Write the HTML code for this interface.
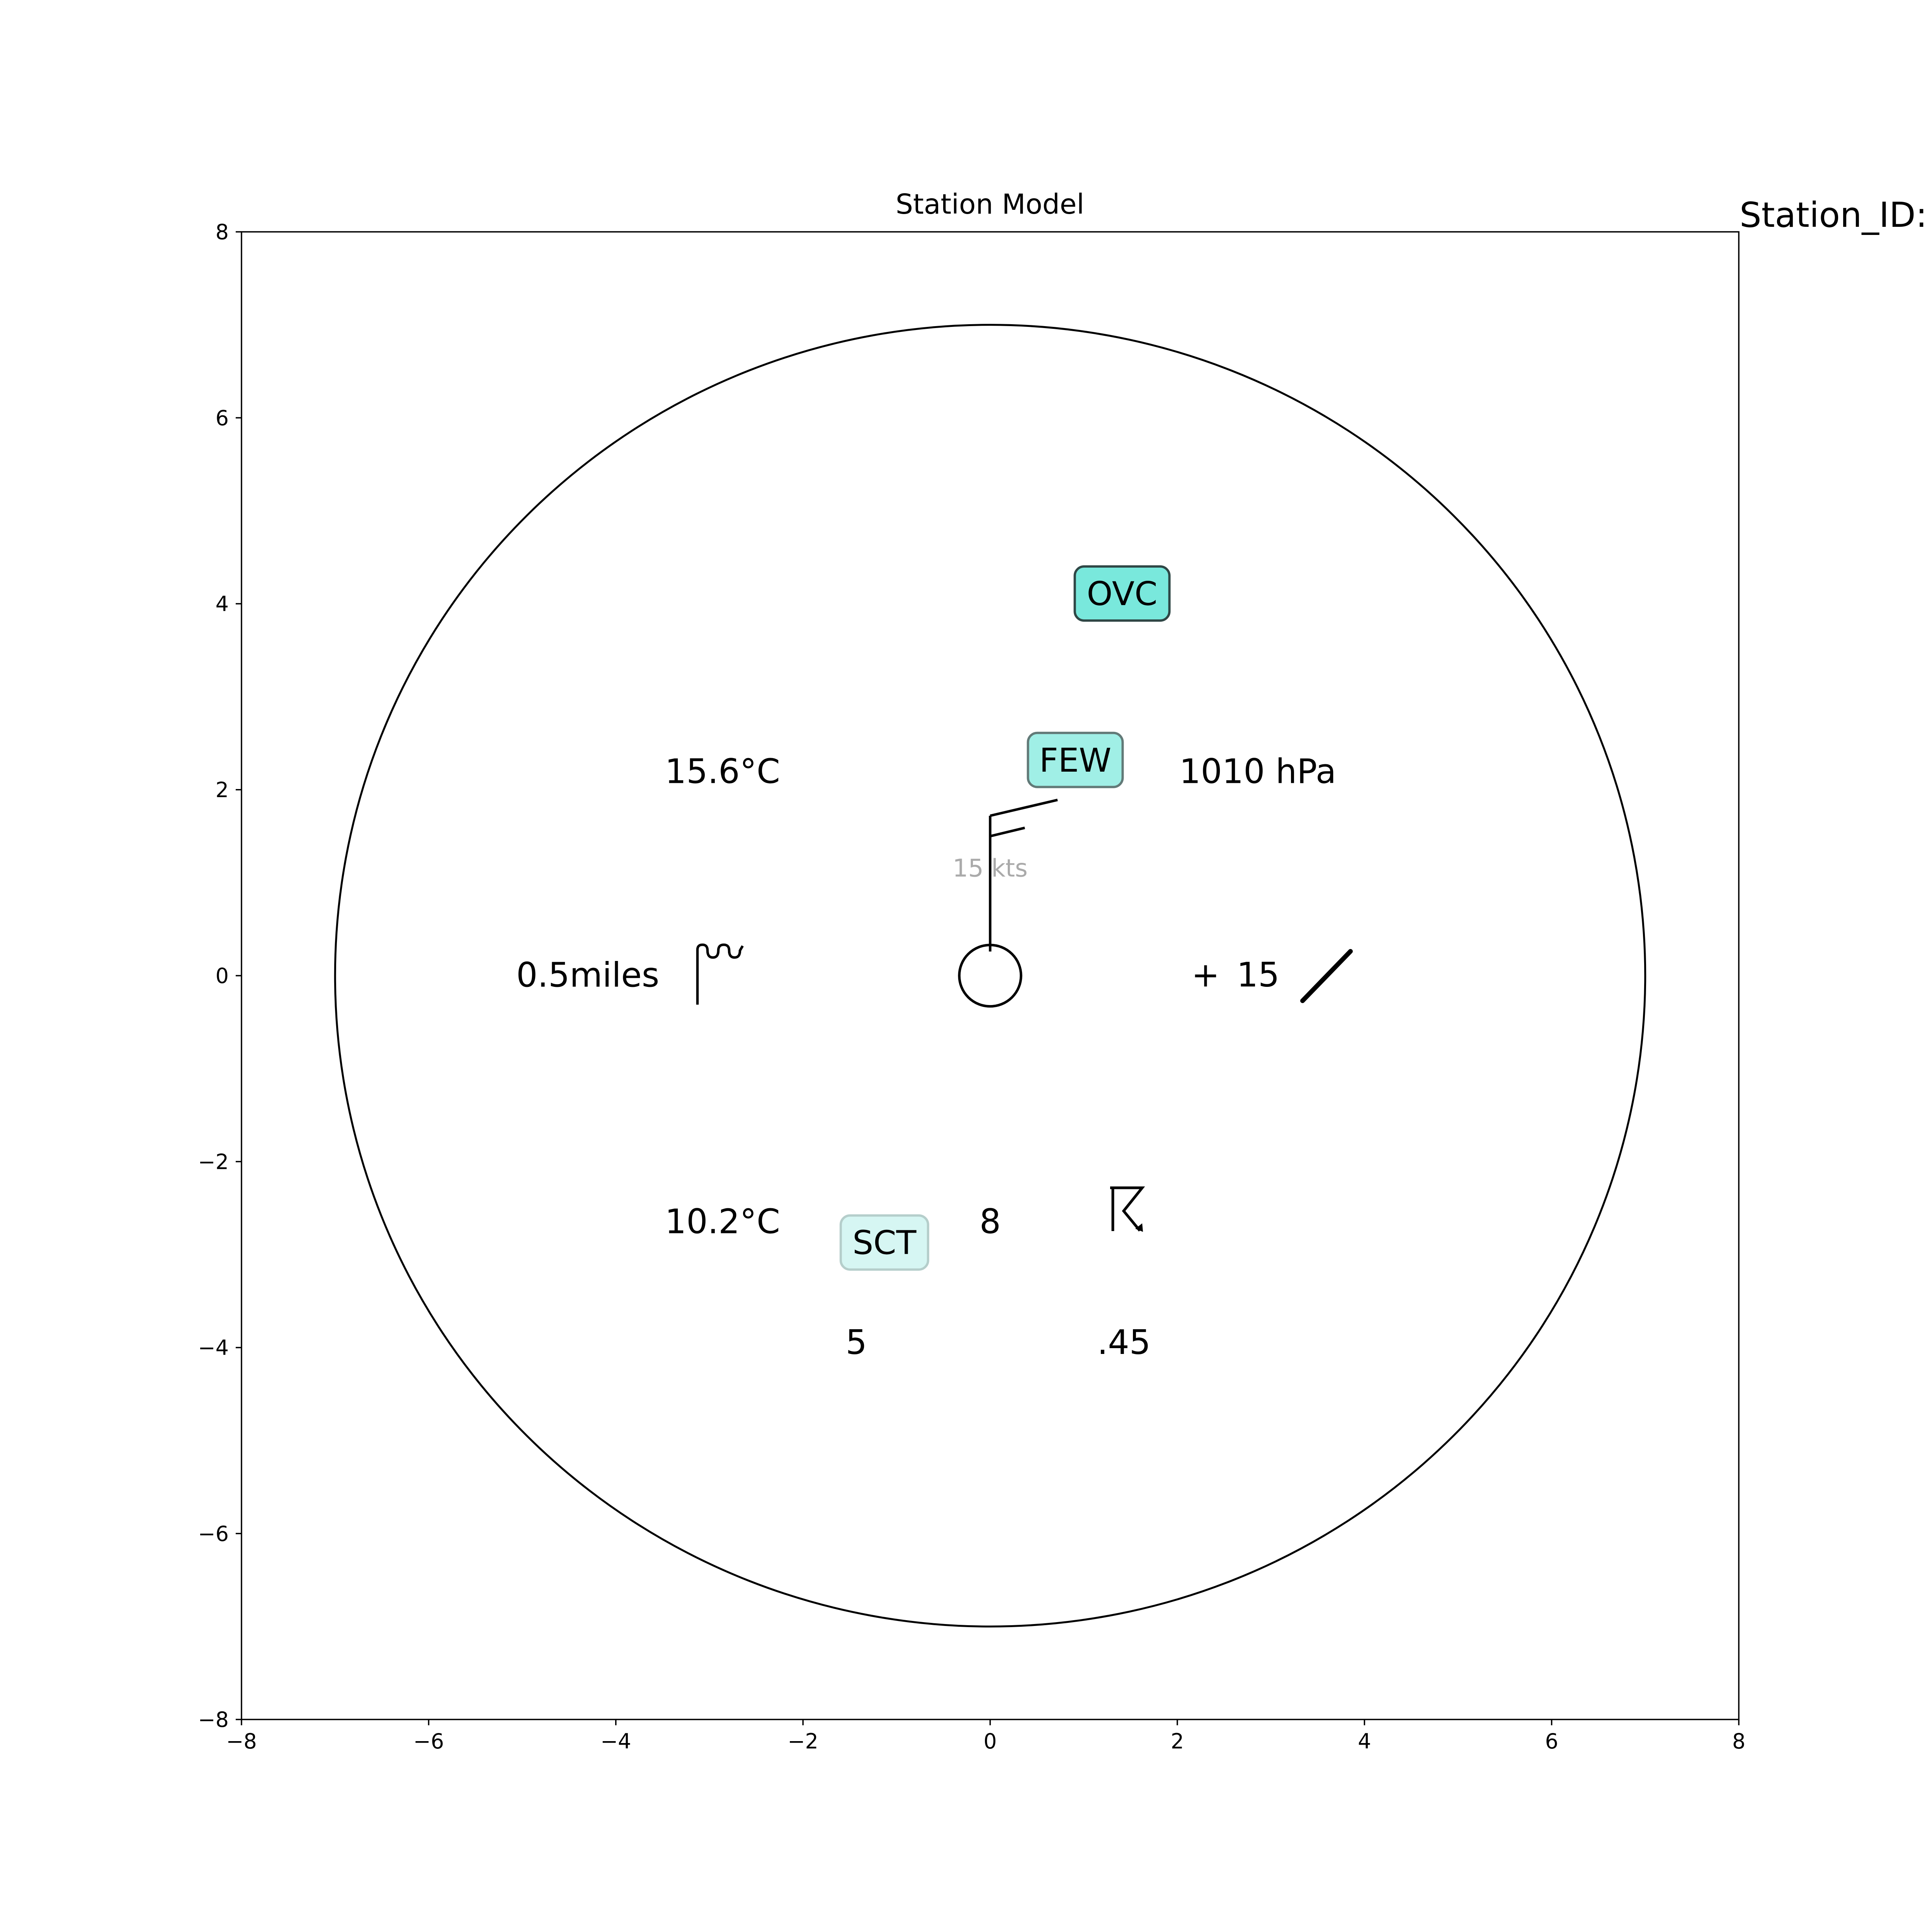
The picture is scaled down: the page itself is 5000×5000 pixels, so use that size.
<!DOCTYPE html>
<html><head><meta charset="utf-8"><style>
html,body{margin:0;padding:0;background:#fff}
svg{display:block;font-family:"DejaVu Sans","Liberation Sans",sans-serif}
</style></head><body>
<svg id="chart" width="5000" height="5000" viewBox="0 0 5000 5000" xmlns="http://www.w3.org/2000/svg">
<rect width="5000" height="5000" fill="#fff"/>
<text x="2562" y="553" font-size="71" text-anchor="middle">Station Model</text>
<text x="4502" y="587" font-size="89">Station_ID:</text>
<g id="plot"></g>
<rect x="625" y="600" width="3875" height="3850" fill="none" stroke="#000" stroke-width="3.5"/>
<g id="ticks"></g>
</svg>
<script>
const xTicks=[-8,-6,-4,-2,0,2,4,6,8];
const yTicks=[-8,-6,-4,-2,0,2,4,6,8];
const ringRadius=[7];
const stationRadius=[0.33];
const windStaff=[0,0.26,0,1.72];
const windBarbFull=[0,1.72,0.72,1.89];
const windBarbHalf=[0,1.5,0.37,1.59];
const textLabels=["15.6°C","1010 hPa","0.5miles","10.2°C","8","5",".45"];
const textX=[-2.86,2.86,-4.3,-2.86,0,-1.43,1.43];
const textY=[2.2,2.2,0.01,-2.64,-2.64,-3.94,-3.94];
const cloudLabels=["OVC","FEW","SCT"];
const cloudX=[1.41,0.91,-1.13];
const cloudY=[4.11,2.32,-2.87];
const cloudFill=["#79e8dc","#a0efe6","#d6f6f3"];
const cloudEdge=["#2f4746","#627a78","#b5cecb"];

const X=v=>2562.5+242.1875*v;
const Y=v=>2525-240.625*v;
const NS="http://www.w3.org/2000/svg";
const plot=document.getElementById('plot');
const tg=document.getElementById('ticks');
function mk(tag,attrs,parent){const e=document.createElementNS(NS,tag);for(const k in attrs)e.setAttribute(k,attrs[k]);parent.appendChild(e);return e;}
const fmt=v=>v<0?"\u2212"+Math.abs(v):String(v);

xTicks.forEach(v=>{
  const l=mk('line',{x1:X(v),x2:X(v),y1:4450,y2:4465,stroke:'#000','stroke-width':3.5},tg);
  
  
  const t=mk('text',{x:X(v),y:4525,'font-size':54,'text-anchor':'middle'},tg);
  t.textContent=fmt(v);
  
  
});
yTicks.forEach(v=>{
  const l=mk('line',{x1:610,x2:625,y1:Y(v),y2:Y(v),stroke:'#000','stroke-width':3.5},tg);
  
  
  const t=mk('text',{x:592,y:Y(v)+19,'font-size':54,'text-anchor':'end'},tg);
  t.textContent=fmt(v);
  
  
});

const ring=mk('ellipse',{cx:X(0),cy:Y(0),rx:242.1875*ringRadius[0],ry:240.625*ringRadius[0],fill:'none',stroke:'#000','stroke-width':5},plot);


const st=mk('ellipse',{cx:X(0),cy:Y(0),rx:242.1875*stationRadius[0],ry:240.625*stationRadius[0],fill:'none',stroke:'#000','stroke-width':6.5},plot);


[[windStaff,'wind-staff'],[windBarbFull,'wind-barb-full'],[windBarbHalf,'wind-barb-half']].forEach(([a,n])=>{
  const l=mk('line',{x1:X(a[0]),y1:Y(a[1]),x2:X(a[2]),y2:Y(a[3]),stroke:'#000','stroke-width':6.5},plot);
  
  
});
const kts=mk('text',{x:X(0),y:Y(1.15)+20,'font-size':63,fill:'#aaaaaa','text-anchor':'middle'},plot);
kts.textContent="15 kts";



textLabels.forEach((s,i)=>{
  const t=mk('text',{x:X(textX[i]),y:Y(textY[i])+31,'font-size':87,'text-anchor':'middle'},plot);
  t.textContent=s;
  
  
});
const pl=mk('text',{x:3120,y:2553,'font-size':87,'text-anchor':'middle'},plot);
pl.textContent="+";


const pv=mk('text',{x:3256,y:2553,'font-size':87,'text-anchor':'middle'},plot);
pv.textContent="15";


const sl=mk('line',{x1:3371,y1:2590,x2:3495,y2:2462,stroke:'#000','stroke-width':12,'stroke-linecap':'round'},plot);


const vs=mk('path',{d:'M1805 2600 L1805 2458 Q1805 2445 1818 2445 Q1831 2445 1831 2460 Q1831 2478 1845 2478 Q1859 2478 1859 2460 Q1859 2445 1873 2445 Q1887 2445 1887 2460 Q1887 2478 1901 2478 Q1915 2478 1915 2460 L1922 2448',fill:'none',stroke:'#000','stroke-width':6.5},plot);


const ws=mk('path',{d:'M2880 3186 L2880 3074 M2873 3074 L2956 3074 L2908 3134 L2950 3185',fill:'none',stroke:'#000','stroke-width':7},plot);


const wh=mk('path',{d:'M2938 3180 L2958 3188 L2956 3166 Z',fill:'#000'},plot);



cloudLabels.forEach((s,i)=>{
  const cx=X(cloudX[i]),cy=Y(cloudY[i]);
  const w=s==="SCT"?226:245,h=140;
  const r=mk('rect',{x:cx-w/2,y:cy-h/2,width:w,height:h,rx:24,fill:cloudFill[i],stroke:cloudEdge[i],'stroke-width':6},plot);
  
  
  const t=mk('text',{x:cx,y:cy+30,'font-size':85,'text-anchor':'middle'},plot);
  t.textContent=s;
  
  
});
</script>
</body></html>
